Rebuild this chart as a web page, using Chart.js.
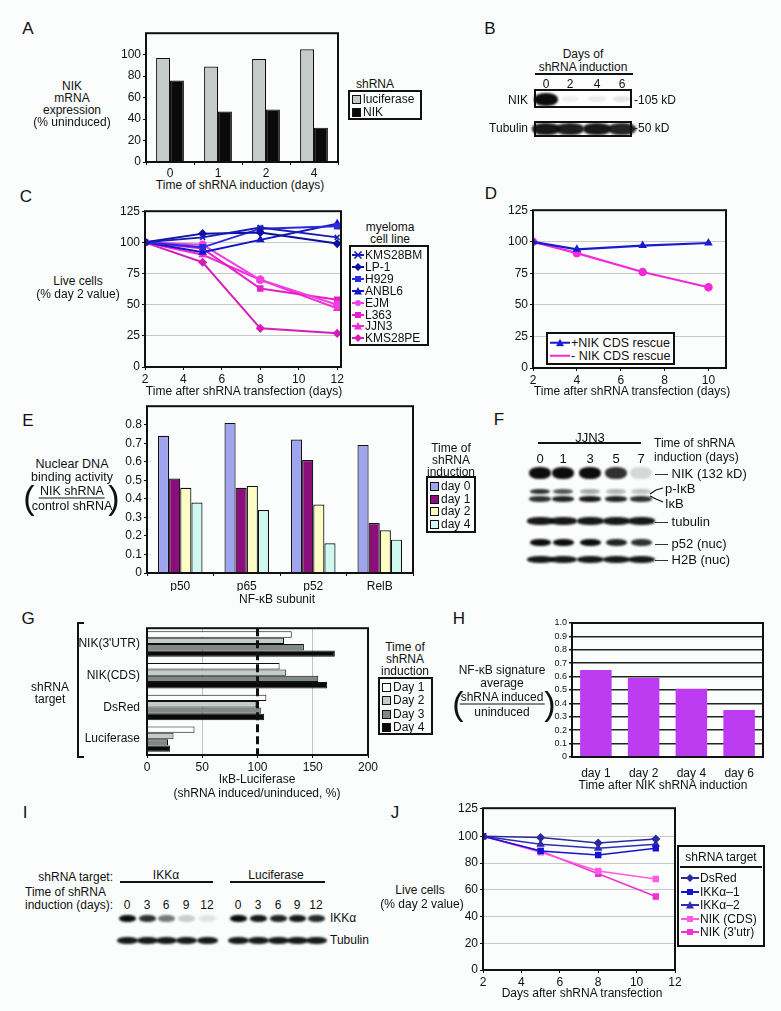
<!DOCTYPE html>
<html>
<head>
<meta charset="utf-8">
<script src="https://cdn.jsdelivr.net/npm/chart.js@4.4.0/dist/chart.umd.min.js"></script>
<style>
body { margin: 0; background: #fbfdfd; }
#page { position: relative; width: 781px; height: 1011px; overflow: hidden; font-family: 'Liberation Sans', Arial, sans-serif; color: #111; font-size: 12px; }
canvas { position: absolute; }
.t { position: absolute; white-space: nowrap; line-height: 1; }
.bx { position: absolute; border: 2px solid #111; box-sizing: border-box; }
.frac { display: inline-flex; flex-direction: column; align-items: center; line-height: 14px; }
.frac .num { border-bottom: 1.5px solid #111; padding: 0 1px; }
.sw { display: inline-block; width: 7px; height: 7px; border: 1px solid #111; margin-right: 2px; vertical-align: -1px; }
</style>
</head>
<body>
<div id="page"></div>
<script>
// ---- data ----
var aDays = ['0', '1', '2', '4'];
var aLuciferase = [97, 89, 96, 105];
var aNIK = [76, 47, 49, 32];

var bLanes = ['0', '2', '4', '6'];
var bNIKBand = [1, 0.06, 0.08, 0.1];
var bTubulinBand = [0.95, 0.92, 0.95, 0.9];

var cDays = [2, 5, 8, 12];
var cKMS28BM = [100, 104, 112, 104];
var cLP1 = [100, 107, 108, 99];
var cH929 = [100, 96, 111, 113];
var cANBL6 = [100, 92, 102, 115];
var cEJM = [100, 98, 70, 50];
var cL363 = [100, 95, 63, 54];
var cJJN3 = [100, 90, 70, 47];
var cKMS28PE = [100, 84, 31, 27];
var cTicks = [2, 4, 6, 8, 10, 12];

var dDays = [2, 4, 7, 10];
var dRescue = [100, 94, 97, 99];
var dNoRescue = [100, 91, 76, 64];
var dTicks = [2, 4, 6, 8, 10];

var eSubunits = ['p50', 'p65', 'p52', 'RelB'];
var eDay0 = [0.74, 0.81, 0.72, 0.69];
var eDay1 = [0.51, 0.46, 0.61, 0.27];
var eDay2 = [0.46, 0.47, 0.37, 0.23];
var eDay4 = [0.38, 0.34, 0.16, 0.18];

var fLanes = ['0', '1', '3', '5', '7'];
var fNIK = [1, 1, 1, 0.85, 0.15];
var fPIkB = [0.85, 0.7, 0.35, 0.3, 0.25];
var fIkB = [0.85, 0.9, 0.95, 0.9, 0.85];
var fTubulin = [0.95, 0.95, 0.95, 0.95, 0.95];
var fP52 = [1, 1, 1, 0.9, 0.85];
var fH2B = [0.95, 0.95, 0.95, 0.95, 0.95];

var gTargets = ["NIK(3'UTR)", 'NIK(CDS)', 'DsRed', 'Luciferase'];
var gDay1 = [131, 120, 108, 43];
var gDay2 = [124, 126, 99, 24];
var gDay3 = [142, 155, 103, 19];
var gDay4 = [170, 163, 106, 21];

var hDays = ['day 1', 'day 2', 'day 4', 'day 6'];
var hSignature = [0.65, 0.59, 0.51, 0.35];

var iLanes = ['0', '3', '6', '9', '12'];
var iIKKaKD = [1, 0.85, 0.55, 0.2, 0.1];
var iIKKaCtrl = [1, 0.95, 0.9, 0.95, 0.88];
var iTubulin = [0.95, 0.95, 0.95, 0.95, 0.95];

var jDays = [2, 5, 8, 11];
var jDsRed = [100, 99, 95, 98];
var jIKKa1 = [100, 89, 86, 91];
var jIKKa2 = [100, 94, 91, 94];
var jNIKCDS = [100, 88, 74, 68];
var jNIK3utr = [100, 89, 72, 55];
var jYTicks = [0, 20, 40, 60, 80, 100, 121];

// ---- helpers ----
var page = document.getElementById('page');

function txt(x, y, s, o) {
  o = o || {};
  var d = document.createElement('div');
  d.className = 't';
  d.innerHTML = s;
  var tx = o.a === 'l' ? '0' : o.a === 'r' ? '-100%' : '-50%';
  d.style.left = x + 'px';
  d.style.top = y + 'px';
  d.style.transform = 'translate(' + tx + ',-50%)';
  if (o.size) d.style.fontSize = o.size + 'px';
  if (o.css) d.style.cssText += o.css;
  page.appendChild(d);
  return d;
}
function rect(l, t, r, b, css) {
  var d = document.createElement('div');
  d.className = 'bx';
  d.style.left = l + 'px'; d.style.top = t + 'px';
  d.style.width = (r - l) + 'px'; d.style.height = (b - t) + 'px';
  if (css) d.style.cssText += css;
  page.appendChild(d);
  return d;
}
function hline(x1, x2, y, w) {
  var d = document.createElement('div');
  d.style.cssText = 'position:absolute;background:#111;left:' + x1 + 'px;top:' + (y - (w || 1.5) / 2) + 'px;width:' + (x2 - x1) + 'px;height:' + (w || 1.5) + 'px';
  page.appendChild(d);
}
function band(cx, cy, w, h, a) {
  var d = document.createElement('div');
  d.style.cssText = 'position:absolute;background:#0c0c0c;border-radius:45%;filter:blur(1.2px);left:' + (cx - w / 2) + 'px;top:' + (cy - h / 2) + 'px;width:' + w + 'px;height:' + h + 'px;opacity:' + a;
  page.appendChild(d);
}
function key(color, shape, w) {
  w = w || 18;
  var c = w / 2, m = '';
  if (shape === 'circle') m = '<circle cx="' + c + '" cy="4" r="3" fill="' + color + '"/>';
  else if (shape === 'rect') m = '<rect x="' + (c - 3) + '" y="1" width="6" height="6" fill="' + color + '"/>';
  else if (shape === 'triangle') m = '<path d="M' + c + ' 0 L' + (c + 4) + ' 7.5 L' + (c - 4) + ' 7.5Z" fill="' + color + '"/>';
  else if (shape === 'rectRot') m = '<path d="M' + c + ' 0 L' + (c + 4) + ' 4 L' + c + ' 8 L' + (c - 4) + ' 4Z" fill="' + color + '"/>';
  else if (shape === 'crossRot') m = '<path d="M' + (c - 3.5) + ' 0.5 L' + (c + 3.5) + ' 7.5 M' + (c + 3.5) + ' 0.5 L' + (c - 3.5) + ' 7.5" stroke="' + color + '" stroke-width="1.6"/>';
  return '<svg width="' + w + '" height="8" style="vertical-align:0px;margin-right:1px"><line x1="0" y1="4" x2="' + w + '" y2="4" stroke="' + color + '" stroke-width="2"/>' + m + '</svg>';
}

Chart.defaults.font.family = "'Liberation Sans', Arial, sans-serif";
Chart.defaults.font.size = 12;
Chart.defaults.color = '#111';

// box around the plot area, optional dashed reference line
Chart.register({
  id: 'frame',
  afterDatasetsDraw: function (ch, args, o) {
    var a = ch.chartArea, c = ch.ctx;
    c.save();
    c.strokeStyle = '#111';
    c.lineWidth = o.w || 2;
    c.strokeRect(a.left, a.top, a.right - a.left, a.bottom - a.top);
    if (o.dashAt !== undefined) {
      var px = ch.scales.x.getPixelForValue(o.dashAt);
      c.setLineDash([8, 4]);
      c.lineWidth = 3;
      c.beginPath(); c.moveTo(px, a.top); c.lineTo(px, a.bottom); c.stroke();
    }
    c.restore();
  }
});

function place(l, t, r, b, yw, xh) {
  var c = document.createElement('canvas');
  var padT = 8, padR = 14;
  c.width = r - l + yw + padR;
  c.height = b - t + padT + xh;
  c.style.left = (l - yw) + 'px';
  c.style.top = (t - padT) + 'px';
  page.appendChild(c);
  return { el: c, yw: yw, xh: xh, padT: padT, padR: padR };
}
function opts(p, scales, frameOpts) {
  scales.x.afterFit = function (s) { s.height = p.xh; };
  scales.y.afterFit = function (s) { s.width = p.yw; };
  return {
    responsive: false, animation: false, devicePixelRatio: 1,
    layout: { padding: { top: p.padT, right: p.padR, left: 0, bottom: 0 } },
    plugins: { legend: { display: false }, tooltip: { enabled: false }, frame: frameOpts || {} },
    scales: scales
  };
}
function linAxis(min, max, step, o) {
  o = o || {};
  var ax = {
    type: 'linear', min: min, max: max,
    ticks: { stepSize: step, autoSkip: false, padding: o.pad === undefined ? 2 : o.pad, font: { size: o.fs || 12 } },
    grid: { drawOnChartArea: !!o.grid, color: o.grid || '#111', tickColor: '#111', tickLength: 3, lineWidth: o.gw || 1 },
    border: { display: false }
  };
  if (o.keep) ax.afterBuildTicks = function (s) { s.ticks = s.ticks.filter(function (t) { return o.keep(t.value); }); };
  if (o.list) ax.afterBuildTicks = function (s) { s.ticks = o.list.map(function (v) { return { value: v }; }); };
  if (o.cb) ax.ticks.callback = o.cb;
  return ax;
}
function catAxis(o) {
  o = o || {};
  return {
    type: 'category',
    ticks: { autoSkip: false, padding: o.pad === undefined ? 1 : o.pad, font: { size: o.fs || 12 } },
    grid: { display: o.ticks !== false, offset: true, drawOnChartArea: false, color: '#111', tickLength: 3 },
    border: { display: false }
  };
}
function pts(xs, ys) { return xs.map(function (x, i) { return { x: x, y: ys[i] }; }); }
function line(label, xs, ys, color, shape, w) {
  return {
    label: label, data: pts(xs, ys), borderColor: color, backgroundColor: color,
    borderWidth: w || 2, pointStyle: shape, pointRadius: 3.5, pointBorderWidth: 1.5, tension: 0
  };
}

// ---- panel letters ----
[['A', 28, 28], ['B', 490, 28], ['C', 26, 196], ['D', 491, 193], ['E', 28, 420], ['F', 499, 419],
 ['G', 28, 618], ['H', 459, 618], ['I', 25, 812], ['J', 395, 812]].forEach(function (l) {
  txt(l[1], l[2], l[0], { size: 17 });
});

// ---- A ----
var pA = place(146, 32, 338, 162, 40, 16);
new Chart(pA.el, {
  type: 'bar',
  data: {
    labels: aDays,
    datasets: [
      { label: 'luciferase', data: aLuciferase, backgroundColor: '#c5ccc8', borderColor: '#111', borderWidth: 1.2 },
      { label: 'NIK', data: aNIK, backgroundColor: '#0a0a0a', borderColor: '#111', borderWidth: 1.2 }
    ]
  },
  options: Object.assign(opts(pA, {
    x: catAxis(),
    y: linAxis(0, 120, 20, { keep: function (v) { return v <= 100; } })
  }), { datasets: { bar: { categoryPercentage: 0.58, barPercentage: 1 } } })
});
txt(72, 86, 'NIK'); txt(72, 98, 'mRNA'); txt(72, 110, 'expression'); txt(72, 122, '(% uninduced)');
txt(240, 185, 'Time of shRNA induction (days)');
txt(375, 84, 'shRNA');
rect(348, 90, 422, 120);
txt(352, 99, '<span class="sw" style="background:#c5ccc8"></span>luciferase', { a: 'l' });
txt(352, 112, '<span class="sw" style="background:#0a0a0a"></span>NIK', { a: 'l' });

// ---- B (blot) ----
txt(583, 54, 'Days of');
txt(583, 67, 'shRNA induction');
hline(535, 633, 74, 1.5);
var bX = [546, 570, 597, 622];
bLanes.forEach(function (s, i) { txt(bX[i], 84, s); });
rect(534, 89, 632, 108, 'background:#fff');
rect(534, 121, 632, 137, 'background:#fff');
bNIKBand.forEach(function (a, i) { band(bX[i], 99, i === 0 ? 24 : 18, i === 0 ? 13 : 6, a); });
bTubulinBand.forEach(function (a, i) { band(bX[i], 129, 28, 12, a); });
txt(528, 100, 'NIK', { a: 'r' });
txt(528, 128, 'Tubulin', { a: 'r' });
txt(634, 100, '-105 kD', { a: 'l' });
txt(634, 128, '-50 kD', { a: 'l' });

// ---- C ----
var pC = place(145, 210, 341, 367, 40, 20);
new Chart(pC.el, {
  type: 'line',
  data: {
    datasets: [
      line('KMS28BM', cDays, cKMS28BM, '#1c1cb4', 'crossRot'),
      line('LP-1', cDays, cLP1, '#1010a0', 'rectRot'),
      line('H929', cDays, cH929, '#2a2ae0', 'rect'),
      line('ANBL6', cDays, cANBL6, '#1515c8', 'triangle'),
      line('EJM', cDays, cEJM, '#f040e0', 'circle'),
      line('L363', cDays, cL363, '#e81ec8', 'rect'),
      line('JJN3', cDays, cJJN3, '#f52ad8', 'triangle'),
      line('KMS28PE', cDays, cKMS28PE, '#d81cb8', 'rectRot')
    ]
  },
  options: opts(pC, {
    x: linAxis(2, 12.2, 2, { list: cTicks }),
    y: linAxis(0, 125, 25, { grid: '#c9c9c9' })
  })
});
txt(78, 281, 'Live cells');
txt(78, 294, '(% day 2 value)');
txt(244, 391, 'Time after shRNA transfection (days)');
txt(390, 227, 'myeloma');
txt(390, 239, 'cell line');
rect(349, 245, 429, 346);
[['KMS28BM', '#1c1cb4', 'crossRot'], ['LP-1', '#1010a0', 'rectRot'], ['H929', '#2a2ae0', 'rect'], ['ANBL6', '#1515c8', 'triangle'],
 ['EJM', '#f040e0', 'circle'], ['L363', '#e81ec8', 'rect'], ['JJN3', '#f52ad8', 'triangle'], ['KMS28PE', '#d81cb8', 'rectRot']].forEach(function (e, i) {
  txt(352, 255 + i * 11.9, key(e[1], e[2], 12) + e[0], { a: 'l' });
});

// ---- D ----
var pD = place(533, 209, 726, 368, 40, 20);
new Chart(pD.el, {
  type: 'line',
  data: {
    datasets: [
      line('+NIK CDS rescue', dDays, dRescue, '#1a1ad0', 'triangle', 2.2),
      line('- NIK CDS rescue', dDays, dNoRescue, '#f22ad8', 'circle', 2.2)
    ]
  },
  options: opts(pD, {
    x: linAxis(2, 10.8, 2, { list: dTicks }),
    y: linAxis(0, 125, 25, { grid: '#c9c9c9' })
  })
});
rect(546, 332, 675, 365, 'background:#fff');
txt(550, 343, key('#1a1ad0', 'triangle', 20) + '+NIK CDS rescue', { a: 'l', size: 12.5 });
txt(550, 356, key('#f22ad8', 'none', 20) + '- NIK CDS rescue', { a: 'l', size: 12.5 });
txt(632, 391, 'Time after shRNA transfection (days)');

// ---- E ----
var pE = place(147, 405, 413, 573, 36, 18);
new Chart(pE.el, {
  type: 'bar',
  data: {
    labels: eSubunits,
    datasets: [
      { label: 'day 0', data: eDay0, backgroundColor: '#9ea5ee', borderColor: '#111', borderWidth: 1.2 },
      { label: 'day 1', data: eDay1, backgroundColor: '#8a0f7c', borderColor: '#111', borderWidth: 1.2 },
      { label: 'day 2', data: eDay2, backgroundColor: '#fdfcc4', borderColor: '#111', borderWidth: 1.2 },
      { label: 'day 4', data: eDay4, backgroundColor: '#cef8f0', borderColor: '#111', borderWidth: 1.2 }
    ]
  },
  options: Object.assign(opts(pE, {
    x: catAxis({ pad: 3 }),
    y: linAxis(0, 0.9, 0.1, { keep: function (v) { return v <= 0.801; } })
  }), { datasets: { bar: { categoryPercentage: 0.67, barPercentage: 1 } } })
});
txt(72, 464, 'Nuclear DNA', { size: 12.5 });
txt(72, 477, 'binding activity', { size: 12.5 });
txt(72, 498, '<span class="frac"><span class="num">NIK shRNA</span><span>control shRNA</span></span>', { size: 12.5 });
txt(29, 497, '(', { size: 34 });
txt(114, 497, ')', { size: 34 });
txt(277, 599, 'NF-\u03baB subunit');
txt(451, 448, 'Time of');
txt(451, 460, 'shRNA');
txt(451, 472, 'induction');
rect(426, 476, 476, 533);
[['day 0', '#9ea5ee'], ['day 1', '#8a0f7c'], ['day 2', '#fdfcc4'], ['day 4', '#cef8f0']].forEach(function (e, i) {
  txt(430, 486 + i * 12.5, '<span class="sw" style="background:' + e[1] + '"></span>' + e[0], { a: 'l' });
});

// ---- F (blot) ----
txt(590, 437, 'JJN3', { size: 13 });
hline(538, 641, 443, 1.5);
var fX = [540, 563, 590, 616, 641];
fLanes.forEach(function (s, i) { txt(fX[i], 458, s, { size: 13 }); });
txt(654, 443, 'Time of shRNA', { a: 'l' });
txt(654, 457, 'induction (days)', { a: 'l' });
fNIK.forEach(function (a, i) { band(fX[i], 473, 22, 12, a); });
fPIkB.forEach(function (a, i) { band(fX[i], 491, 20, 5, a); });
fIkB.forEach(function (a, i) { band(fX[i], 499, 22, 6, a); });
fTubulin.forEach(function (a, i) { band(fX[i], 521, 27, 8, a); });
fP52.forEach(function (a, i) { band(fX[i], 542, 21, 7, a); });
fH2B.forEach(function (a, i) { band(fX[i], 559, 27, 7, a); });
txt(655, 473, '\u2014 NIK (132 kD)', { a: 'l', size: 13 });
txt(665, 488, 'p-I\u03baB', { a: 'l', size: 13 });
txt(665, 503, 'I\u03baB', { a: 'l', size: 13 });
txt(655, 521, '\u2014 tubulin', { a: 'l', size: 13 });
txt(655, 543, '\u2014 p52 (nuc)', { a: 'l', size: 13 });
txt(655, 559, '\u2014 H2B (nuc)', { a: 'l', size: 13 });
var sv = document.createElementNS('http://www.w3.org/2000/svg', 'svg');
sv.setAttribute('style', 'position:absolute;left:648px;top:484px;width:18px;height:22px');
sv.innerHTML = '<path d="M2 10 L8 6 L15 4 M2 12 L8 15 L15 18" stroke="#111" stroke-width="1.2" fill="none"/>';
page.appendChild(sv);

// ---- G ----
var pG = place(147, 625, 368, 755, 75, 18);
var gx = linAxis(0, 200, 50, { grid: '#c4c4c4' });
gx.grid.color = function (ctx) { return ctx.tick && (ctx.tick.value === 50 || ctx.tick.value === 150) ? '#c4c4c4' : 'rgba(0,0,0,0)'; };
var gy = catAxis({ ticks: false, pad: 4 });
new Chart(pG.el, {
  type: 'bar',
  data: {
    labels: gTargets,
    datasets: [
      { label: 'Day 1', data: gDay1, backgroundColor: '#ffffff', borderColor: '#111', borderWidth: 1 },
      { label: 'Day 2', data: gDay2, backgroundColor: '#c4cbc8', borderColor: '#111', borderWidth: 1 },
      { label: 'Day 3', data: gDay3, backgroundColor: '#7f8985', borderColor: '#111', borderWidth: 1 },
      { label: 'Day 4', data: gDay4, backgroundColor: '#0a0a0a', borderColor: '#111', borderWidth: 1 }
    ]
  },
  options: Object.assign(opts(pG, { x: gx, y: gy }, { dashAt: 100 }), {
    indexAxis: 'y',
    datasets: { bar: { categoryPercentage: 0.8, barPercentage: 1 } }
  })
});
var br = document.createElementNS('http://www.w3.org/2000/svg', 'svg');
br.setAttribute('style', 'position:absolute;left:74px;top:621px;width:12px;height:140px');
br.innerHTML = '<path d="M10 2 H4 V136 H10" stroke="#111" stroke-width="2" fill="none"/>';
page.appendChild(br);
txt(50, 687, 'shRNA');
txt(50, 699, 'target');
txt(257, 779, 'I\u03baB-Luciferase');
txt(257, 793, '(shRNA induced/uninduced, %)');
txt(405, 647, 'Time of');
txt(405, 659, 'shRNA');
txt(405, 671, 'induction');
rect(378, 677, 433, 735);
[['Day 1', '#ffffff'], ['Day 2', '#c4cbc8'], ['Day 3', '#7f8985'], ['Day 4', '#0a0a0a']].forEach(function (e, i) {
  txt(382, 687 + i * 13.3, '<span class="sw" style="background:' + e[1] + '"></span>' + e[0], { a: 'l' });
});

// ---- H ----
var pH = place(572, 623, 763, 757, 26, 26);
new Chart(pH.el, {
  type: 'bar',
  data: {
    labels: hDays,
    datasets: [{ label: 'signature', data: hSignature, backgroundColor: '#bd3cf2', borderWidth: 0 }]
  },
  options: Object.assign(opts(pH, {
    x: catAxis({ ticks: false, pad: 6 }),
    y: linAxis(0, 1.0, 0.1, { grid: '#222', gw: 1.5, fs: 9,
      cb: function (v) { return v === 0 ? '0' : v.toFixed(1); } })
  }), { datasets: { bar: { categoryPercentage: 0.66, barPercentage: 1 } } })
});
txt(502, 670, 'NF-\u03baB signature');
txt(502, 683, 'average');
txt(502, 704, '<span class="frac"><span class="num">shRNA induced</span><span>uninduced</span></span>');
txt(458, 703, '(', { size: 34 });
txt(550, 703, ')', { size: 34 });
txt(663, 785, 'Time after NIK shRNA induction');

// ---- I (blot) ----
txt(113, 877, 'shRNA target:', { a: 'r' });
txt(166, 875, 'IKK\u03b1');
txt(276, 875, 'Luciferase');
hline(120, 213, 882, 1.5);
hline(230, 325, 882, 1.5);
txt(25, 892, 'Time of shRNA', { a: 'l' });
txt(25, 905, 'induction (days):', { a: 'l' });
var iX1 = [127, 147, 166, 186, 207], iX2 = [238, 258, 278, 297, 316];
iLanes.forEach(function (s, i) { txt(iX1[i], 905, s); txt(iX2[i], 905, s); });
iIKKaKD.forEach(function (a, i) { band(iX1[i], 918, 17, 7, a); });
iIKKaCtrl.forEach(function (a, i) { band(iX2[i], 918, 17, 7, a); });
iTubulin.forEach(function (a, i) { band(iX1[i], 940, 21, 7, a); band(iX2[i], 940, 21, 7, a); });
txt(330, 918, 'IKK\u03b1', { a: 'l' });
txt(330, 940, 'Tubulin', { a: 'l' });

// ---- J ----
var pJ = place(483, 807, 675, 970, 30, 20);
new Chart(pJ.el, {
  type: 'line',
  data: {
    datasets: [
      line('DsRed', jDays, jDsRed, '#2a2a9a', 'rectRot', 1.5),
      line('IKK\u03b1-1', jDays, jIKKa1, '#1414d0', 'rect', 1.5),
      line('IKK\u03b1-2', jDays, jIKKa2, '#2e2eb4', 'triangle', 1.5),
      line('NIK (CDS)', jDays, jNIKCDS, '#ff5ae6', 'rect', 1.5),
      line('NIK (3\'utr)', jDays, jNIK3utr, '#f030d0', 'rect', 1.5)
    ]
  },
  options: opts(pJ, {
    x: linAxis(2, 12, 2),
    y: linAxis(0, 121, 20, { grid: '#c9c9c9', list: jYTicks,
      cb: function (v) { return v === 121 ? '125' : v; } })
  })
});
txt(420, 890, 'Live cells');
txt(422, 904, '(% day 2 value)');
txt(582, 993, 'Days after shRNA transfection');
rect(677, 845, 765, 947);
txt(721, 857, 'shRNA target');
hline(680, 762, 867, 1.5);
[['DsRed', '#2a2a9a', 'rectRot'], ['IKK\u03b1\u20131', '#1414d0', 'rect'], ['IKK\u03b1\u20132', '#2e2eb4', 'triangle'],
 ['NIK (CDS)', '#ff5ae6', 'rect'], ["NIK (3'utr)", '#f030d0', 'rect']].forEach(function (e, i) {
  txt(681, 878 + i * 13.5, key(e[1], e[2], 18) + e[0], { a: 'l' });
});
</script>
</body>
</html>
